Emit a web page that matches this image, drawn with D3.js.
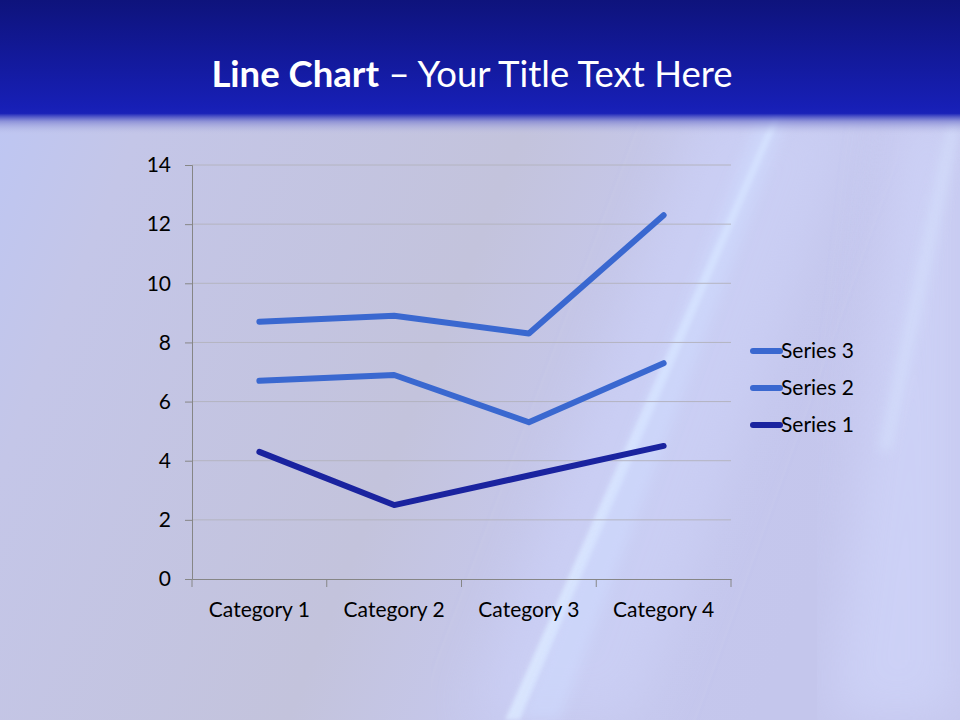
<!DOCTYPE html>
<html>
<head>
<meta charset="utf-8">
<script src="https://cdn.jsdelivr.net/npm/d3@7"></script>
<style>
  html, body { margin: 0; padding: 0; background: #c5c7e6; }
  svg { display: block; font-family: Lato, "Open Sans", sans-serif; }
</style>
</head>
<body>
<div id="chart"></div>
<script>
// data
const categories = ["Category 1", "Category 2", "Category 3", "Category 4"];
const seriesNames = ["Series 1", "Series 2", "Series 3"];
const series1 = [4.3, 2.5, 3.5, 4.5];
const series2 = [6.7, 6.9, 5.3, 7.3];
const series3 = [8.7, 8.9, 8.3, 12.3];
const yTicks = [0, 2, 4, 6, 8, 10, 12, 14];
const seriesColors = ["#1a239f", "#3a68d0", "#3a68d0"];

const width = 960;
const height = 720;
const plot = { left: 192, right: 731, top: 165, bottom: 579 };

const svg = d3.select("#chart").append("svg")
    .attr("width", width)
    .attr("height", height);

const defs = svg.append("defs");

// background gradient
const bg = defs.append("linearGradient")
    .attr("id", "bg").attr("x1", 0).attr("y1", 0).attr("x2", 1).attr("y2", 0.3);
bg.append("stop").attr("offset", "0%").attr("stop-color", "#bcc6f6");
bg.append("stop").attr("offset", "18%").attr("stop-color", "#c4c6e8");
bg.append("stop").attr("offset", "55%").attr("stop-color", "#c3c3dc");
bg.append("stop").attr("offset", "75%").attr("stop-color", "#c6c8ee");
bg.append("stop").attr("offset", "100%").attr("stop-color", "#c4c6ec");

const head = defs.append("linearGradient")
    .attr("id", "head").attr("x1", 0).attr("y1", 0).attr("x2", 0).attr("y2", 1);
head.append("stop").attr("offset", "0%").attr("stop-color", "#0e137c");
head.append("stop").attr("offset", "80%").attr("stop-color", "#171fb6");
head.append("stop").attr("offset", "84%").attr("stop-color", "#1a22b8");
head.append("stop").attr("offset", "90%").attr("stop-color", "#7a7ed0").attr("stop-opacity", 0.7);
head.append("stop").attr("offset", "100%").attr("stop-color", "#c4c6e6").attr("stop-opacity", 0);

defs.append("filter").attr("id", "blur")
    .append("feGaussianBlur").attr("stdDeviation", 6);
defs.append("filter").attr("id", "blurBig")
    .append("feGaussianBlur").attr("stdDeviation", 25);
defs.append("filter").attr("id", "blurThin")
    .append("feGaussianBlur").attr("stdDeviation", 2);

svg.append("rect").attr("width", width).attr("height", height).attr("fill", "url(#bg)");

// soft streaks on the right
const streaks = svg.append("g");
streaks.append("path")
    .attr("d", "M700,110 L860,110 L640,720 L470,720 Z")
    .attr("fill", "#cdd3f8").attr("opacity", 0.6).attr("filter", "url(#blurBig)");
streaks.append("path")
    .attr("d", "M900,110 L960,110 L960,720 L830,720 Z")
    .attr("fill", "#d0d6fb").attr("opacity", 0.7).attr("filter", "url(#blurBig)");
streaks.append("path")
    .attr("d", "M775,112 L782,112 L520,720 L505,720 Z")
    .attr("fill", "#dbe8ff").attr("opacity", 0.9).attr("filter", "url(#blurThin)");
streaks.append("path")
    .attr("d", "M760,112 L790,112 L560,720 L520,720 Z")
    .attr("fill", "#cfdcff").attr("opacity", 0.5).attr("filter", "url(#blur)");
streaks.append("path")
    .attr("d", "M950,120 L960,120 L890,450 L880,450 Z")
    .attr("fill", "#d8e6ff").attr("opacity", 0.6).attr("filter", "url(#blur)");

// header band
svg.append("rect").attr("width", width).attr("height", 135).attr("fill", "url(#head)");

const title = svg.append("text")
    .attr("x", 472)
    .attr("y", 87)
    .attr("text-anchor", "middle")
    .attr("fill", "#ffffff")
    .style("font-size", "36.5px");
title.append("tspan").attr("font-weight", "bold").text("Line Chart");
title.append("tspan").text(" \u2013 Your Title Text Here");

// scales
const x = d3.scaleBand()
    .domain(categories)
    .range([plot.left, plot.right]);

const y = d3.scaleLinear()
    .domain([0, 14])
    .range([plot.bottom, plot.top]);

// gridlines
svg.append("g")
    .selectAll("line")
    .data(yTicks.filter(d => d > 0))
    .enter().append("line")
    .attr("x1", plot.left).attr("x2", plot.right)
    .attr("y1", d => y(d)).attr("y2", d => y(d))
    .attr("stroke", "#b4b4c0")
    .attr("stroke-width", 1);

// y axis
const yAxis = svg.append("g")
    .attr("transform", "translate(" + plot.left + ",0)")
    .call(d3.axisLeft(y).tickValues(yTicks).tickSize(7).tickPadding(14));
yAxis.select(".domain").attr("stroke", "#868686");
yAxis.selectAll(".tick line").attr("stroke", "#868686");
yAxis.selectAll("text").attr("fill", "#000").style("font-size", "21px").style("font-family", "Lato, sans-serif");

// x axis
const xAxis = svg.append("g")
    .attr("transform", "translate(0," + plot.bottom + ")")
    .call(d3.axisBottom(x).tickSize(0).tickPadding(23));
xAxis.select(".domain").attr("stroke", "#868686");
xAxis.selectAll("text").attr("fill", "#000").style("font-size", "21px").style("font-family", "Lato, sans-serif");
// category divider ticks
const bounds = categories.map(c => x(c)).concat([plot.right]);
xAxis.append("g").selectAll("line")
    .data(bounds)
    .enter().append("line")
    .attr("x1", d => d).attr("x2", d => d)
    .attr("y1", 0).attr("y2", 8)
    .attr("stroke", "#868686");

// lines
const allSeries = [series1, series2, series3];
const line = d3.line()
    .x((d, i) => x(categories[i]) + x.bandwidth() / 2)
    .y(d => y(d));

svg.append("g")
    .selectAll("path")
    .data(allSeries)
    .enter().append("path")
    .attr("d", d => line(d))
    .attr("fill", "none")
    .attr("stroke", (d, i) => seriesColors[i])
    .attr("stroke-width", 6)
    .attr("stroke-linecap", "round")
    .attr("stroke-linejoin", "round");

// legend, series 3 on top
const legendOrder = [2, 1, 0];
const legend = svg.append("g")
    .selectAll("g")
    .data(legendOrder)
    .enter().append("g")
    .attr("transform", (d, i) => "translate(750," + (351 + i * 37) + ")");

legend.append("line")
    .attr("x1", 3).attr("x2", 30)
    .attr("stroke", d => seriesColors[d])
    .attr("stroke-width", 6)
    .attr("stroke-linecap", "round");

legend.append("text")
    .attr("x", 31)
    .attr("dy", "0.35em")
    .style("font-size", "21px")
    .attr("fill", "#000")
    .text(d => seriesNames[d]);
</script>
</body>
</html>
